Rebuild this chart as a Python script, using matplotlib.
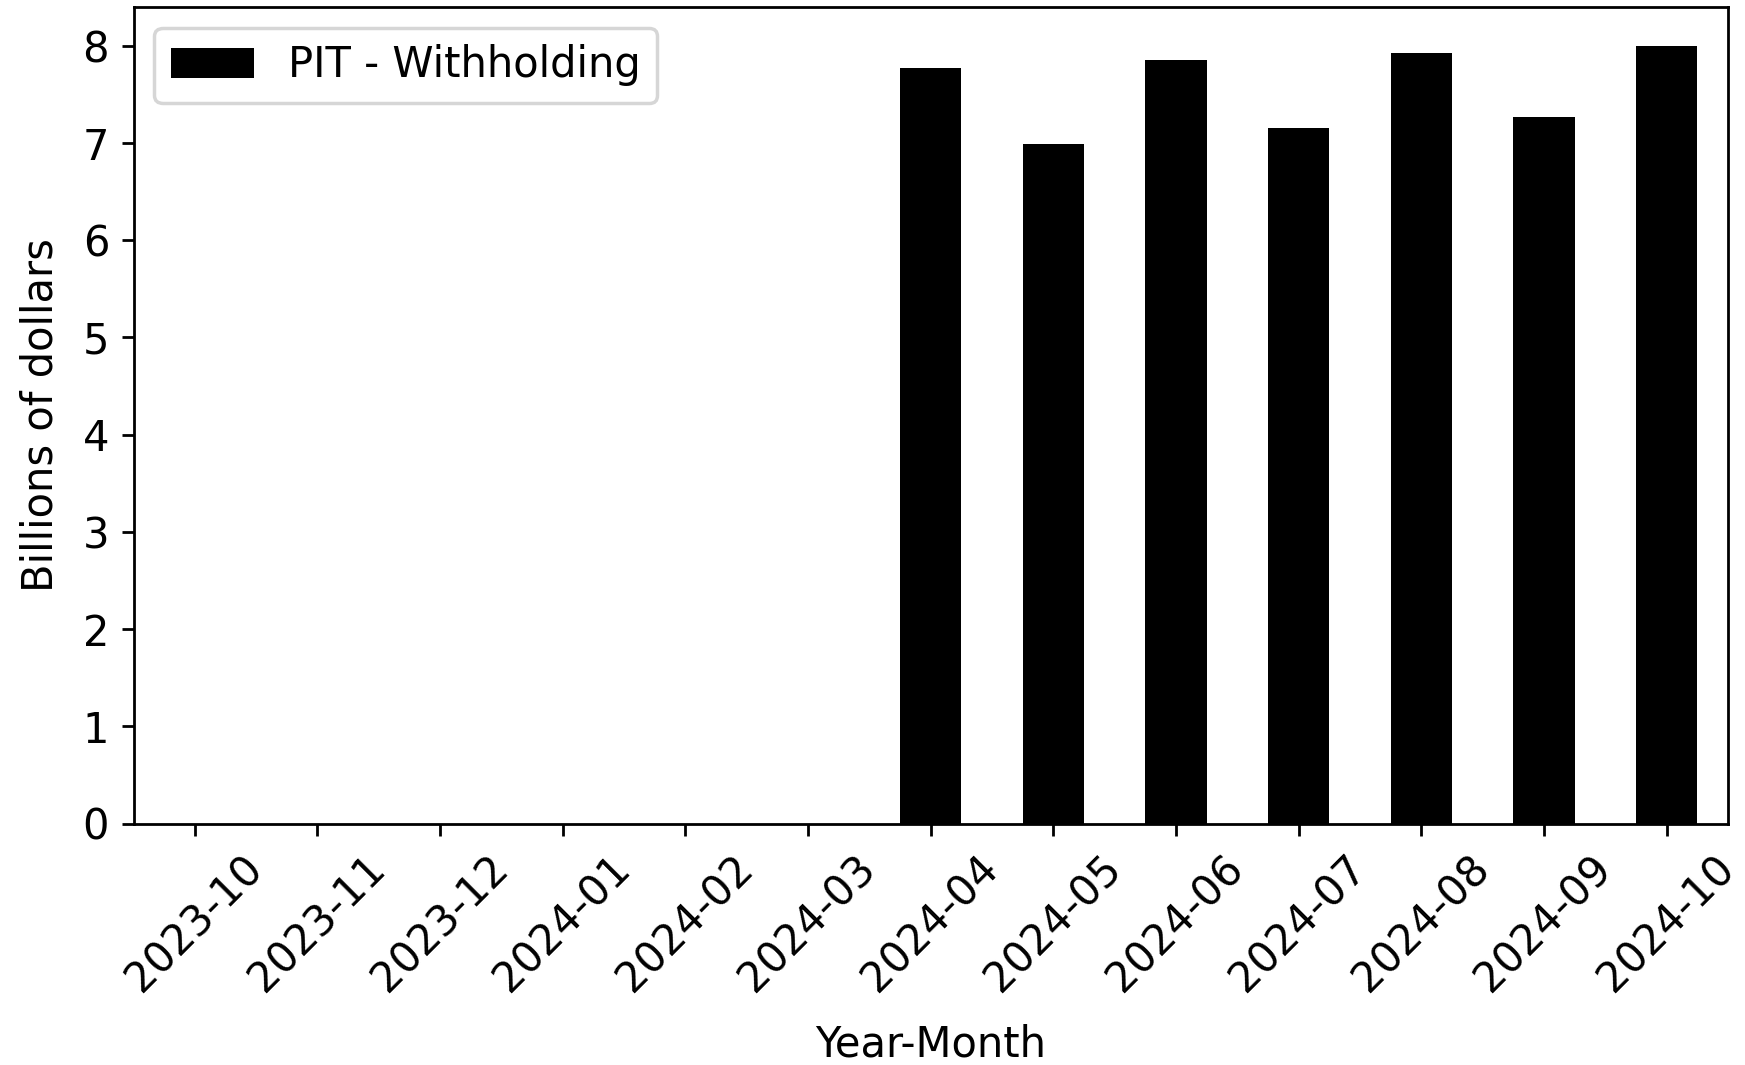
import matplotlib
matplotlib.use("Agg")
import matplotlib.pyplot as plt
import numpy as np

# Monthly PIT withholding, billions of dollars (NaN = no data)
months = ["2023-10", "2023-11", "2023-12", "2024-01", "2024-02", "2024-03",
          "2024-04", "2024-05", "2024-06", "2024-07", "2024-08", "2024-09", "2024-10"]
withholding = [np.nan, np.nan, np.nan, np.nan, np.nan, np.nan,
               7.77, 6.99, 7.85, 7.16, 7.93, 7.27, 8.00]

plt.rcParams['font.size'] = 12

fig = plt.figure(figsize=(6.98, 4.26), dpi=250)
ax = fig.add_axes([133.5 / 1745, 1 - 823.5 / 1065, (1728 - 133.5) / 1745, (823.5 - 7) / 1065])

x = np.arange(len(months))
ax.bar(x, np.nan_to_num(withholding), width=0.5, color='black', label='PIT - Withholding')
ax.set_xlim(-0.5, len(months) - 0.5)
ax.set_ylim(0, 8.4)
ax.set_xticks(x)
ax.set_xticklabels(months, rotation=45)
ax.set_xlabel('Year-Month', labelpad=6.5)
ax.set_ylabel('Billions of dollars', labelpad=6)
ax.legend(loc='upper left')

fig.savefig('out.png', dpi=250)
